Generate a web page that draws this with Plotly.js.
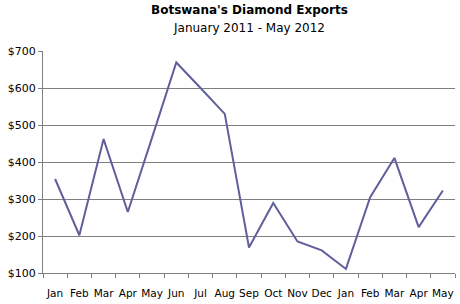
<!DOCTYPE html>
<html><head><meta charset="utf-8">
<script src="https://cdn.plot.ly/plotly-3.0.1.min.js"></script>
<style>html,body{margin:0;padding:0;background:#fff;}#chart{width:460px;height:304px;}</style>
</head><body><div id="chart"></div>
<script>
const months = ["Jan","Feb","Mar","Apr","May","Jun","Jul","Aug","Sep","Oct","Nov","Dec","Jan","Feb","Mar","Apr","May"];
const years = [2011,2011,2011,2011,2011,2011,2011,2011,2011,2011,2011,2011,2012,2012,2012,2012,2012];
const exportsM = [354,202,462,265,466,669,600,530,169,289,185,161,111,305,411,224,323];

const cats = months.map((m,i)=>m+" "+years[i]);
const font = "DejaVu Sans, Verdana, sans-serif";
Plotly.newPlot("chart",[{
  x: cats, y: exportsM, type:"scatter", mode:"lines",
  line:{color:"#5f5f9b", width:2}, hoverinfo:"skip"
}],{
  width:460, height:304,
  margin:{l:43,r:5,t:51,b:31},
  paper_bgcolor:"#fff", plot_bgcolor:"#fff",
  showlegend:false,
  font:{family:font, size:11, color:"#000"},
  xaxis:{type:"category", tickmode:"array", tickvals:cats, ticktext:months,
    tickson:"boundaries", ticks:"outside", ticklen:4, tickcolor:"#808080",
    showline:true, linecolor:"#808080", linewidth:1, showgrid:false, zeroline:false,
    range:[-0.5,16.5], tickangle:0, ticklabelstandoff:10, tickfont:{family:font,size:10.5}},
  yaxis:{range:[100,700], dtick:100, tickprefix:"$", ticks:"outside", ticklen:4,
    tickcolor:"#808080", showline:true, linecolor:"#808080", linewidth:1,
    showgrid:true, gridcolor:"#808080", gridwidth:1, zeroline:false,
    tickfont:{family:font,size:11}},
  annotations:[
    {text:"<b>Botswana's Diamond Exports</b>", xref:"paper", yref:"paper", x:0.5, y:1, yshift:41, showarrow:false, xanchor:"center", yanchor:"middle", font:{family:font,size:12}},
    {text:"January 2011 - May 2012", xref:"paper", yref:"paper", x:0.5, y:1, yshift:23, showarrow:false, xanchor:"center", yanchor:"middle", font:{family:font,size:12}}
  ]
},{staticPlot:true, displayModeBar:false});
</script></body></html>
